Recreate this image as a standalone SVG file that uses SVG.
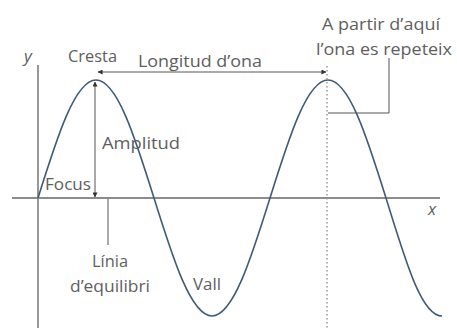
<svg xmlns="http://www.w3.org/2000/svg" width="457" height="335" viewBox="0 0 457 335">
<style>
  text { font-family: "Open Sans", "Noto Sans", "Liberation Sans", sans-serif; font-size: 17px; fill: #5e5e5e; }
  .it { font-style: italic; }
  .axis { stroke: #8c8c8c; stroke-width: 1.8; fill: none; }
  .wave { stroke: #3f5b78; stroke-width: 1.6; fill: none; }
  .lead { stroke: #555; stroke-width: 1; fill: none; }
  .dots { stroke: #999; stroke-width: 1.5; stroke-dasharray: 1.5 2.5; fill: none; }
</style>
<defs>
  <marker id="ah" viewBox="0 0 6 6" refX="5.5" refY="3" markerWidth="5" markerHeight="5" orient="auto-start-reverse" markerUnits="userSpaceOnUse">
    <path d="M0,0 L6,3 L0,6 z" fill="#333"/>
  </marker>
</defs>
<rect width="457" height="335" fill="#fff"/>
<g id="axes">
  <line class="axis" x1="38" y1="65" x2="38" y2="328"/>
  <line class="axis" x1="12" y1="198" x2="440" y2="198"/>
  <text class="it" x="24" y="62">y</text>
  <text class="it" x="428" y="215">x</text>
</g>
<g id="wave">
  <path class="wave" d="M38,198 C56.9,137.5 75,80 96,80 C117,80 135.1,137.5 154,198 C172.9,258.5 191,316 212,316 C233,316 251.1,258.5 270,198 C288.9,137.5 307,80 328,80 C349,80 367.1,137.5 386,198 C404.9,258.5 421,316 442,316"/>
</g>
<g id="connectors">
  <line class="dots" x1="327" y1="66" x2="327" y2="330"/>
  <line class="lead" x1="98" y1="72" x2="326" y2="72" marker-start="url(#ah)" marker-end="url(#ah)"/>
  <line class="lead" x1="95" y1="82" x2="95" y2="197" marker-start="url(#ah)" marker-end="url(#ah)"/>
  <line class="lead" x1="108" y1="199" x2="108" y2="245"/>
  <polyline class="lead" points="389,58 389,113 328,113"/>
</g>
<g id="cresta"><text x="68" y="62" textLength="49" lengthAdjust="spacingAndGlyphs">Cresta</text></g>
<g id="longitud"><text x="138" y="67" textLength="124" lengthAdjust="spacingAndGlyphs">Longitud d’ona</text></g>
<g id="amplitud"><text x="102" y="149" textLength="78" lengthAdjust="spacingAndGlyphs">Amplitud</text></g>
<g id="focus"><text x="45" y="190" textLength="46" lengthAdjust="spacingAndGlyphs">Focus</text></g>
<g id="linia"><text x="92" y="267" textLength="36" lengthAdjust="spacingAndGlyphs">Línia</text><text x="70" y="292" textLength="80" lengthAdjust="spacingAndGlyphs">d’equilibri</text></g>
<g id="vall"><text x="193" y="290" textLength="28" lengthAdjust="spacingAndGlyphs">Vall</text></g>
<g id="repeteix"><text x="322" y="30" textLength="118" lengthAdjust="spacingAndGlyphs">A partir d’aquí</text><text x="316" y="55" textLength="136" lengthAdjust="spacingAndGlyphs">l’ona es repeteix</text></g>
</svg>
